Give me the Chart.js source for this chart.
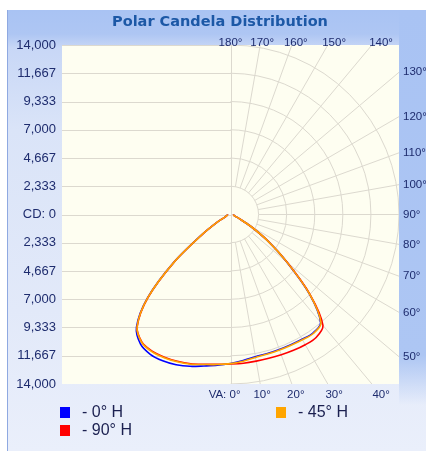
<!DOCTYPE html>
<html lang="en">
<head>
    <meta charset="UTF-8">
    <title>Polar Candela Distribution</title>
    <script src="https://cdn.jsdelivr.net/npm/chart.js"></script>
    <style>
        body {
            margin: 0;
            background: #fff;
            width: 426px;
            height: 451px;
            overflow: hidden;
        }
        #panel {
            position: absolute;
            left: 7px;
            top: 10px;
            width: 418px;
            height: 441px;
            border-left: 1px solid #8fa9e1;
            background:
                linear-gradient(to bottom, #a9c3f3 0px, #adc6f3 345px, rgba(173,198,243,0) 395px) right top / 27px 100% no-repeat,
                linear-gradient(to bottom, #a9c3f3 0px, #aec6f3 24px, #c8d7f6 38px, #dae4f8 120px, #e2e9f9 300px, #eaeffb 441px);
        }
        #wrap {
            position: absolute;
            left: 0;
            top: 0;
            width: 426px;
            height: 451px;
        }
        .item {
            position: absolute;
            display: flex;
            align-items: center;
            height: 18px;
            font: 16px 'Liberation Sans', Arial, sans-serif;
            color: #1b2050;
            white-space: nowrap;
        }
        .item .box {
            width: 10px;
            height: 11px;
            margin-right: 12px;
        }
    </style>
</head>
<body>
    <div id="panel"></div>
    <div id="wrap"><canvas id="polarChart" width="426" height="451"></canvas></div>
    <div id="legend"></div>

    <script>
        // vertical angles (from nadir), one value every 5 degrees
        const vaAngles = [0, 5, 10, 15, 20, 25, 30, 35, 40, 45, 50, 55, 60, 65, 70, 75, 80, 85, 90];

        // candela, right half of the plot (the H plane itself)
        const blueRight   = [12300, 12100, 11930, 11880, 11860, 11860, 11900, 11950, 11650, 9250, 6100, 3700, 1900, 800, 400, 300, 270, 250, 250];
        const orangeRight = [12320, 12160, 11990, 11930, 11910, 11910, 11950, 12000, 11700, 9280, 6120, 3720, 1900, 800, 400, 300, 270, 250, 250];
        const redRight    = [12350, 12330, 12300, 12300, 12330, 12380, 12420, 12400, 11950, 9350, 6150, 3750, 1900, 800, 400, 300, 270, 250, 250];

        // candela, left half of the plot (the opposite plane)
        const blueLeft    = [12300, 12500, 12700, 12980, 13200, 13330, 13330, 13050, 12150, 9750, 6150, 2900, 1300, 550, 350, 300, 270, 250, 250];
        const orangeLeft  = [12320, 12440, 12580, 12800, 12950, 13050, 13080, 12880, 12070, 9720, 6120, 2870, 1300, 550, 350, 300, 270, 250, 250];
        const redLeft     = [12350, 12420, 12560, 12760, 12900, 13000, 13030, 12850, 12050, 9700, 6100, 2850, 1300, 550, 350, 300, 270, 250, 250];

        const seriesLabels = ['0° H', '45° H', '90° H'];
        const seriesColors = ['#0000ff', '#ffa500', '#ff0000'];

        // candela rings / tick values and the angle grid
        const yTickValues = [14000, 11667, 9333, 7000, 4667, 2333, 0, -2333, -4667, -7000, -9333, -11667, -14000];
        const radialAngles = [0, 10, 20, 30, 40, 50, 60, 70, 80, 90, 100, 110, 120, 130, 140, 150, 160, 170, 180];

        const gridColor = '#dcd9cf';
        const labelColor = '#1e2c6e';
        const cdMax = 14000;

        // polar (VA, cd) -> x/y in candela, left plane then right plane
        function toPoints(left, right) {
            const pts = [];
            for (let i = vaAngles.length - 1; i >= 0; i--) {
                const a = vaAngles[i] * Math.PI / 180;
                pts.push({ x: -left[i] * Math.sin(a), y: -left[i] * Math.cos(a) });
            }
            for (let i = 1; i < vaAngles.length; i++) {
                const a = vaAngles[i] * Math.PI / 180;
                pts.push({ x: right[i] * Math.sin(a), y: -right[i] * Math.cos(a) });
            }
            return pts;
        }

        const polarGrid = {
            id: 'polarGrid',
            beforeDraw(chart) {
                const { ctx, chartArea: a } = chart;
                ctx.save();
                ctx.fillStyle = '#fefef1';
                ctx.fillRect(a.left, a.top, a.right - a.left, a.bottom - a.top);
                ctx.restore();
            },
            beforeDatasetsDraw(chart) {
                const { ctx, chartArea: a, scales: { x, y } } = chart;
                const px = (vx, vy) => [x.getPixelForValue(vx), y.getPixelForValue(vy)];
                const [cx, cy] = px(0, 0);
                const vx = Math.round(cx) + 0.5;

                ctx.save();
                ctx.beginPath();
                ctx.rect(a.left, a.top, a.right - a.left, a.bottom - a.top);
                ctx.clip();
                ctx.strokeStyle = gridColor;
                ctx.lineWidth = 1;

                // horizontal lines, left half only
                ctx.beginPath();
                yTickValues.forEach(v => {
                    const py = Math.round(y.getPixelForValue(v)) + 0.5;
                    ctx.moveTo(a.left, py);
                    ctx.lineTo(vx, py);
                });
                ctx.moveTo(vx, a.top);
                ctx.lineTo(vx, a.bottom);
                ctx.stroke();

                // rings, right half
                yTickValues.filter(v => v > 0).forEach(v => {
                    const rx = x.getPixelForValue(v) - cx;
                    const ry = cy - y.getPixelForValue(v);
                    ctx.beginPath();
                    ctx.ellipse(cx, cy, rx, ry, 0, -Math.PI / 2, Math.PI / 2);
                    ctx.stroke();
                });

                // radial lines, from the first ring out to the frame
                const r0 = cdMax / 6;
                radialAngles.forEach(deg => {
                    if (deg === 0 || deg === 180) return;
                    const t = deg * Math.PI / 180, s = Math.sin(t), c = Math.cos(t);
                    const far = cdMax / Math.max(Math.abs(s), Math.abs(c));
                    ctx.beginPath();
                    ctx.moveTo(...px(r0 * s, -r0 * c));
                    ctx.lineTo(...px(far * s, -far * c));
                    ctx.stroke();
                });
                ctx.restore();
            },
            afterDraw(chart) {
                const { ctx, chartArea: a, scales: { x, y } } = chart;
                const cx = x.getPixelForValue(0), cy = y.getPixelForValue(0);
                ctx.save();
                ctx.fillStyle = labelColor;
                ctx.font = "11.5px 'Liberation Sans', Arial, sans-serif";
                radialAngles.forEach(deg => {
                    const t = deg * Math.PI / 180, s = Math.sin(t), c = Math.cos(t);
                    const far = cdMax / Math.max(Math.abs(s), Math.abs(c));
                    const ex = x.getPixelForValue(far * s), ey = y.getPixelForValue(-far * c);
                    const lx = ex + (ex - cx) * 0.065;
                    if (deg >= 140) {
                        ctx.textAlign = 'center';
                        ctx.textBaseline = 'alphabetic';
                        ctx.fillText(deg + '°', lx, a.top + 1);
                    } else if (deg >= 50) {
                        ctx.textAlign = 'left';
                        ctx.textBaseline = 'middle';
                        ctx.fillText(deg + '°', a.right + 4, ey);
                    } else if (deg === 0) {
                        ctx.textAlign = 'right';
                        ctx.textBaseline = 'alphabetic';
                        ctx.fillText('VA: 0°', cx + 10, a.bottom + 14);
                    } else {
                        ctx.textAlign = 'center';
                        ctx.textBaseline = 'alphabetic';
                        ctx.fillText(deg + '°', lx, a.bottom + 14);
                    }
                });
                ctx.restore();
            }
        };

        const ctx = document.getElementById('polarChart').getContext('2d');
        new Chart(ctx, {
            type: 'scatter',
            data: {
                // lower order is drawn on top: orange over red over blue
                datasets: [
                    { label: seriesLabels[0], data: toPoints(blueLeft, blueRight), borderColor: seriesColors[0], order: 3 },
                    { label: seriesLabels[1], data: toPoints(orangeLeft, orangeRight), borderColor: seriesColors[1], order: 1 },
                    { label: seriesLabels[2], data: toPoints(redLeft, redRight), borderColor: seriesColors[2], order: 2 }
                ].map(d => Object.assign(d, { showLine: true, borderWidth: 1.6, pointRadius: 0, tension: 0.3, fill: false }))
            },
            options: {
                responsive: false,
                animation: false,
                layout: { padding: { left: 14, right: 0, top: 0, bottom: 67 } },
                plugins: {
                    legend: { display: false },
                    tooltip: { enabled: false },
                    title: {
                        display: true,
                        text: 'Polar Candela Distribution',
                        color: '#1c58a6',
                        font: { family: "'DejaVu Sans', Verdana, sans-serif", size: 14.5, weight: 'bold', lineHeight: 1.2 },
                        padding: { top: 14, bottom: 13.6 }
                    }
                },
                scales: {
                    x: { type: 'linear', min: -cdMax, max: cdMax, display: false },
                    y: {
                        type: 'linear',
                        min: -cdMax,
                        max: cdMax,
                        afterBuildTicks: scale => { scale.ticks = yTickValues.map(v => ({ value: v })); },
                        afterFit: scale => { scale.width = 48; },
                        grid: { display: false, drawTicks: false },
                        border: { display: false },
                        ticks: {
                            padding: 6,
                            color: labelColor,
                            font: { family: "'Liberation Sans', Arial, sans-serif", size: 13 },
                            callback: v => v === 0 ? 'CD: 0' : Math.abs(v).toLocaleString('en-US')
                        }
                    },
                    // empty right-hand axis: room for the angle labels
                    yRight: {
                        type: 'linear',
                        position: 'right',
                        min: -cdMax,
                        max: cdMax,
                        afterFit: scale => { scale.width = 27; },
                        grid: { display: false, drawTicks: false },
                        border: { display: false },
                        ticks: { display: false }
                    }
                }
            },
            plugins: [polarGrid]
        });

        // legend, two columns like the original
        const legendPos = [[60, 403], [276, 403], [60, 421]];
        const legend = document.getElementById('legend');
        seriesLabels.forEach((lab, i) => {
            const item = document.createElement('div');
            item.className = 'item';
            item.style.left = legendPos[i][0] + 'px';
            item.style.top = legendPos[i][1] + 'px';
            item.innerHTML = `<span class="box" style="background:${seriesColors[i]}"></span>- ${lab}`;
            legend.appendChild(item);
        });
    </script>
</body>
</html>
